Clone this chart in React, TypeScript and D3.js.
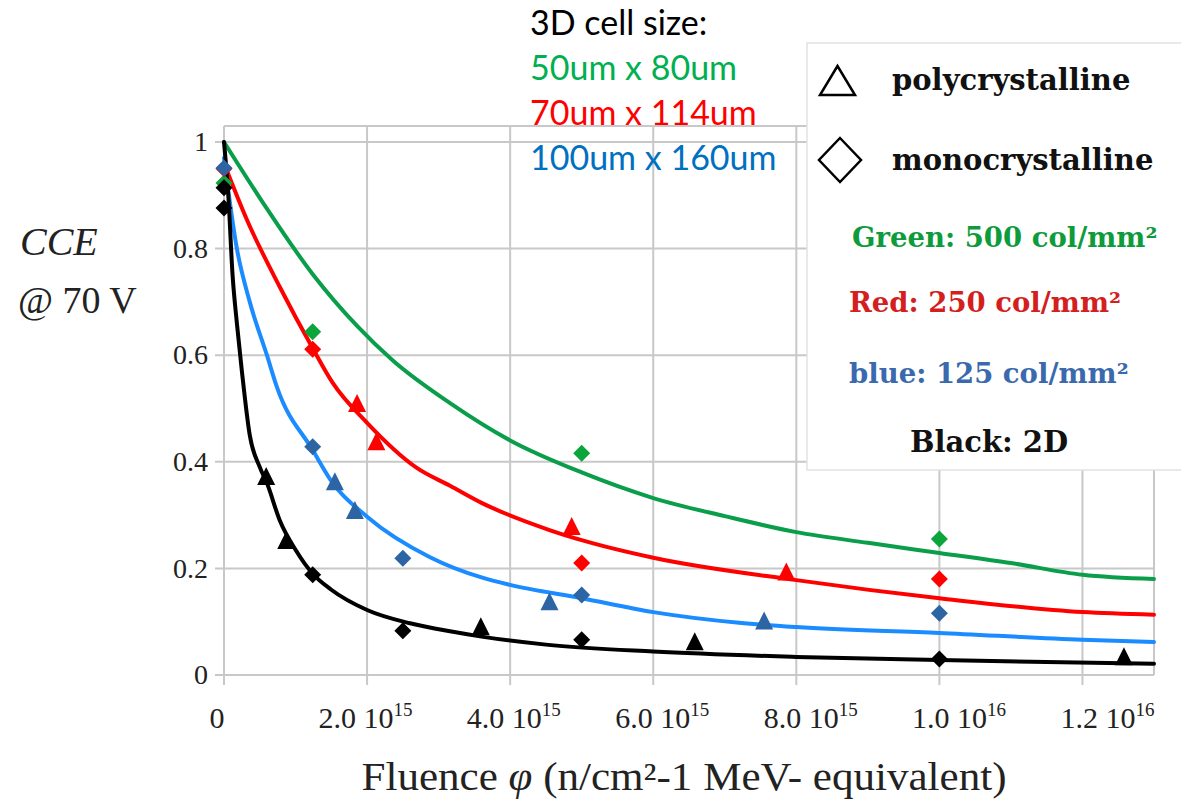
import React from "react";
import * as d3 from "d3";

const W = 1181;
const H = 805;

// Fluence in units of 1e15 n/cm^2
const xTicks = [0, 2, 4, 6, 8, 10, 12];
const xTickMantissa = ["0", "2.0", "4.0", "6.0", "8.0", "1.0", "1.2"];
const xTickExponent = ["", "15", "15", "15", "15", "16", "16"];
const yTicks = [0, 0.2, 0.4, 0.6, 0.8, 1];
const yTickLabels = ["0", "0.2", "0.4", "0.6", "0.8", "1"];

const greenCurve: [number, number][] = [
  [0, 1.0], [0.55, 0.885], [1.24, 0.752], [1.86, 0.655], [2.36, 0.59], [3.16, 0.51],
  [4.0, 0.44], [5.0, 0.38], [6.0, 0.332], [7.0, 0.298], [8.0, 0.268], [9.0, 0.248],
  [10.0, 0.229], [11.0, 0.21], [12.0, 0.188], [13.0, 0.18],
];
const redCurve: [number, number][] = [
  [0, 0.96], [0.32, 0.854], [0.78, 0.728], [1.24, 0.613], [1.52, 0.548], [2.0, 0.473],
  [2.7, 0.388], [3.16, 0.355], [3.6, 0.323], [4.55, 0.272], [5.0, 0.253], [6.0, 0.22],
  [8.0, 0.178], [10.0, 0.144], [12.0, 0.118], [13.0, 0.113],
];
const blueCurve: [number, number][] = [
  [0, 0.97], [0.18, 0.8], [0.36, 0.7], [0.6, 0.6], [0.74, 0.54], [1.24, 0.422],
  [1.52, 0.36], [2.0, 0.297], [2.88, 0.221], [3.6, 0.183], [4.0, 0.169], [5.0, 0.144],
  [6.0, 0.118], [7.2, 0.098], [8.0, 0.09], [10.0, 0.079], [12.0, 0.066], [13.0, 0.062],
];
const blackCurve: [number, number][] = [
  [0, 1.0], [0.06, 0.9], [0.12, 0.75], [0.18, 0.66], [0.25, 0.57], [0.36, 0.45],
  [0.5, 0.39], [0.6, 0.36], [0.78, 0.29], [1.0, 0.235], [1.24, 0.19], [1.5, 0.16],
  [2.0, 0.122], [2.6, 0.097], [3.2, 0.081], [3.6, 0.072], [4.5, 0.057], [6.0, 0.044],
  [8.0, 0.034], [10.0, 0.028], [13.0, 0.021],
];

const greenMono: [number, number][] = [[0, 0.923], [1.24, 0.644], [5.0, 0.416], [10.0, 0.255]];
const redMono: [number, number][] = [[0, 0.95], [1.24, 0.611], [5.0, 0.21], [10.0, 0.18]];
const redPoly: [number, number][] = [[1.86, 0.507], [2.13, 0.435], [4.86, 0.276], [7.86, 0.191]];
const blackMono: [number, number][] = [[0, 0.914], [0, 0.876], [1.24, 0.188], [2.5, 0.083], [5.0, 0.066], [10.0, 0.03]];
const blackPoly: [number, number][] = [[0.59, 0.37], [0.87, 0.25], [3.59, 0.088], [6.58, 0.06], [12.58, 0.032]];
const blueMono: [number, number][] = [[0, 0.951], [1.24, 0.428], [2.5, 0.219], [5.0, 0.15], [10.0, 0.116]];
const bluePoly: [number, number][] = [[1.55, 0.36], [1.83, 0.306], [4.55, 0.135], [7.55, 0.099]];

const cellSizeTitle = "3D cell size:";
const cellSizes = ["50um x 80um", "70um x 114um", "100um x 160um"];
const legendDensity = ["Green: 500 col/mm²", "Red: 250 col/mm²", "blue: 125 col/mm²"];

const C = {
  greenLine: "#0a9e4a",
  redLine: "#ff0000",
  blueLine: "#1a8cff",
  blackLine: "#000000",
  greenMark: "#0aa63c",
  redMark: "#ff0000",
  blueMark: "#2d64a3",
  blackMark: "#000000",
  grid: "#c8c8c8",
  txtGreen: "#00b050",
  txtRed: "#ff0000",
  txtBlue: "#0070c0",
  legGreen: "#0e9b3c",
  legRed: "#d41f1f",
  legBlue: "#3a6aad",
};

export default function App() {
  const x = d3.scaleLinear().domain([0, 13]).range([224, 1154]);
  const y = d3.scaleLinear().domain([0, 1.03]).range([675, 126]);
  const xLabel = d3.scaleLinear().domain([0, 12]).range([x(0) - 7, x(12) + 25]);
  const line = d3
    .line<[number, number]>()
    .x((d) => x(d[0]))
    .y((d) => y(d[1]))
    .curve(d3.curveMonotoneX);

  const diamond = (d: [number, number], fill: string, key: string) => {
    const cx = x(d[0]);
    const cy = y(d[1]);
    const r = 8.5;
    return (
      <path key={key} d={`M${cx},${cy - r}L${cx + r},${cy}L${cx},${cy + r}L${cx - r},${cy}Z`} fill={fill} />
    );
  };
  const triangle = (d: [number, number], fill: string, key: string) => {
    const cx = x(d[0]);
    const cy = y(d[1]);
    const h = 18;
    const w = 18;
    return (
      <path
        key={key}
        d={`M${cx},${cy - h * 0.6}L${cx + w / 2},${cy + h * 0.4}L${cx - w / 2},${cy + h * 0.4}Z`}
        fill={fill}
      />
    );
  };

  const serif = "'Liberation Serif', 'Times New Roman', serif";
  const boldSerif = "'DejaVu Serif', serif";

  return (
    <div style={{ position: "absolute", left: 0, top: 0 }}>
      <svg width={W} height={H} viewBox={`0 0 ${W} ${H}`} style={{ display: "block", background: "#fff" }}>
        {/* grid */}
        <g stroke={C.grid} strokeWidth={2}>
          {xTicks.map((t) => (
            <line key={"gx" + t} x1={x(t)} x2={x(t)} y1={y(1.03)} y2={y(0) + 10} />
          ))}
          <line x1={x(13)} x2={x(13)} y1={y(1.03)} y2={y(0)} />
          {yTicks.map((t) => (
            <line key={"gy" + t} x1={x(0) - 9} x2={x(13)} y1={y(t)} y2={y(t)} />
          ))}
          <line x1={x(0)} x2={x(13)} y1={y(1.03)} y2={y(1.03)} />
        </g>

        {/* y tick labels */}
        {yTicks.map((t, i) => (
          <text
            key={"yl" + t}
            x={208}
            y={y(t)}
            dy="0.33em"
            textAnchor="end"
            fontFamily={serif}
            fontSize={28}
            fill="#222"
          >
            {yTickLabels[i]}
          </text>
        ))}

        {/* x tick labels */}
        {xTicks.map((t, i) => (
          <text
            key={"xl" + t}
            x={xLabel(t)}
            y={728}
            textAnchor="middle"
            fontFamily={serif}
            fontSize={30}
            fill="#222"
          >
            {xTickMantissa[i]}
            {xTickExponent[i] && (
              <>
                <tspan> 10</tspan>
                <tspan fontSize={19} dy={-12}>
                  {xTickExponent[i]}
                </tspan>
              </>
            )}
          </text>
        ))}

        {/* curves */}
        <g fill="none" strokeWidth={4} strokeLinejoin="round" strokeLinecap="round">
          <path d={line(greenCurve) || ""} stroke={C.greenLine} />
          <path d={line(redCurve) || ""} stroke={C.redLine} />
          <path d={line(blueCurve) || ""} stroke={C.blueLine} />
          <path d={line(blackCurve) || ""} stroke={C.blackLine} />
        </g>

        {/* markers */}
        <g>
          {greenMono.map((d, i) => diamond(d, C.greenMark, "gm" + i))}
          {blackMono.map((d, i) => diamond(d, C.blackMark, "km" + i))}
          {blackPoly.map((d, i) => triangle(d, C.blackMark, "kp" + i))}
          {redMono.map((d, i) => diamond(d, C.redMark, "rm" + i))}
          {redPoly.map((d, i) => triangle(d, C.redMark, "rp" + i))}
          {blueMono.map((d, i) => diamond(d, C.blueMark, "bm" + i))}
          {bluePoly.map((d, i) => triangle(d, C.blueMark, "bp" + i))}
        </g>

        {/* axis titles */}
        <text x={20} y={255} fontFamily={serif} fontStyle="italic" fontSize={40} fill="#222">
          CCE
        </text>
        <text x={18} y={313} fontFamily={serif} fontSize={38} fill="#222">
          @ 70 V
        </text>
        <text
          x={684}
          y={790}
          textAnchor="middle"
          fontFamily={serif}
          fontSize={40}
          fill="#222"
          textLength={645}
          lengthAdjust="spacingAndGlyphs"
        >
          Fluence <tspan fontStyle="italic">φ</tspan> (n/cm²-1 MeV- equivalent)
        </text>

        {/* cell size annotation */}
        <g fontFamily="Lato, 'Open Sans', sans-serif" fontSize={34}>
          <text x={530} y={35} fill="#000">
            {cellSizeTitle}
          </text>
          <text x={530} y={80} fill={C.txtGreen}>
            {cellSizes[0]}
          </text>
          <text x={530} y={125} fill={C.txtRed}>
            {cellSizes[1]}
          </text>
          <text x={530} y={170} fill={C.txtBlue}>
            {cellSizes[2]}
          </text>
        </g>

        {/* legend */}
        <g>
          <rect x={807} y={43} width={390} height={427} fill="#fff" stroke="#e2e2e2" strokeWidth={1.5} />
          <path d="M820,95L855,95L837.5,66Z" fill="none" stroke="#000" strokeWidth={2.5} strokeLinejoin="miter" />
          <path d="M840,138L861,160L840,182L819,160Z" fill="none" stroke="#000" strokeWidth={2.5} />
          <g fontFamily={boldSerif} fontWeight="bold" fontSize={29}>
            <text x={892} y={90} fill="#111">polycrystalline</text>
            <text x={892} y={170} fill="#111">monocrystalline</text>
            <text x={852} y={247} fill={C.legGreen} fontSize={27.5}>{legendDensity[0]}</text>
            <text x={849} y={312} fill={C.legRed} fontSize={27.5}>{legendDensity[1]}</text>
            <text x={849} y={383} fill={C.legBlue} fontSize={27.5}>{legendDensity[2]}</text>
            <text x={910} y={452} fill="#111">Black: 2D</text>
          </g>
        </g>
      </svg>
    </div>
  );
}
